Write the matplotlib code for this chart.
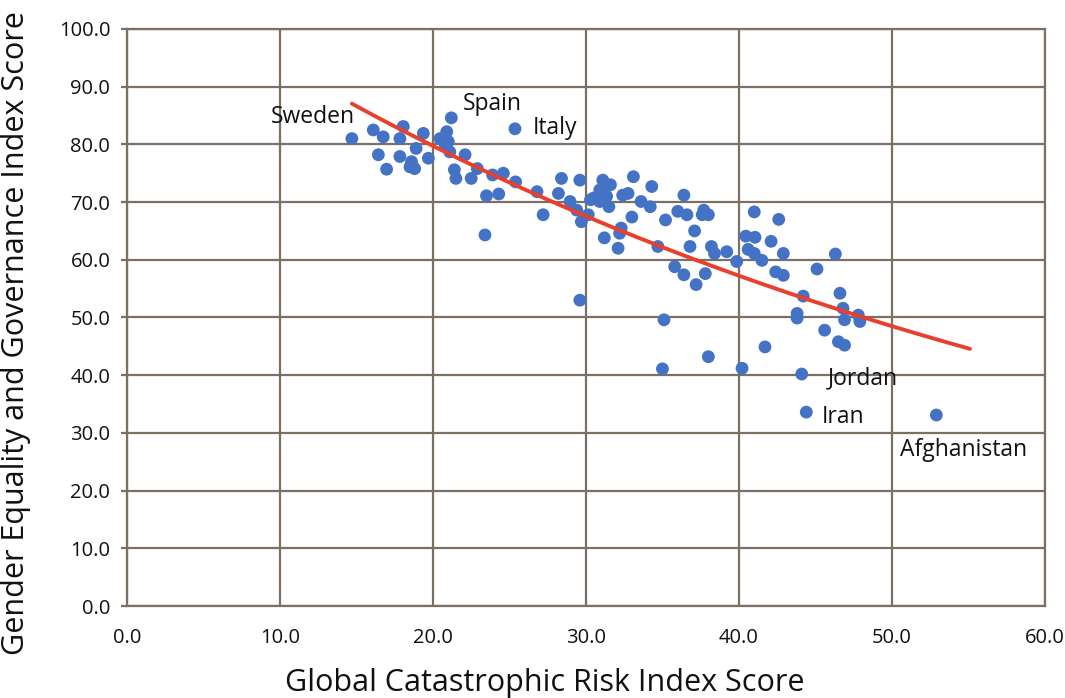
import matplotlib.pyplot as plt
import numpy as np

# Global Catastrophic Risk Index score (x) vs Gender Equality & Governance score (y)
risk_score = [
    14.7, 16.1, 16.75, 18.06, 17.84, 19.37, 16.43, 17.84, 18.9, 16.97,
    18.5, 18.8, 19.7, 18.6, 21.2, 25.36, 20.46, 20.9, 21.0, 21.1,
    22.1, 21.4, 21.5, 22.5, 22.9, 23.9, 24.6, 25.4, 23.5, 24.3,
    23.4, 20.8, 26.8, 27.2, 28.4, 28.2, 28.96, 29.4, 29.6, 29.7,
    30.15, 29.6, 30.5, 31.1, 30.9, 31.6, 31.35, 31.5, 30.9, 32.4,
    32.75, 33.1, 33.6, 34.3, 34.2, 33.0, 32.3, 32.2, 31.2, 32.1,
    34.7, 35.1, 36.4, 36.0, 36.6, 37.7, 38.0, 37.6, 35.2, 37.1,
    36.8, 38.2, 39.2, 38.4, 39.85, 35.8, 36.4, 37.8, 37.2, 41.0,
    40.45, 41.05, 42.1, 42.6, 40.6, 41.0, 41.5, 42.4, 42.9, 42.9,
    45.1, 46.3, 46.6, 44.2, 43.8, 43.8, 46.8, 46.9, 47.8, 47.9,
    45.6, 46.5, 46.9, 41.7, 38.0, 35.0, 40.2, 44.1, 44.4, 52.9,
    31.0, 30.3,
]
equality_score = [
    81.0, 82.5, 81.3, 83.1, 81.0, 81.9, 78.2, 77.9, 79.3, 75.7,
    76.1, 75.8, 77.6, 77.0, 84.6, 82.7, 81.0, 82.2, 80.5, 78.7,
    78.2, 75.6, 74.1, 74.1, 75.8, 74.7, 75.0, 73.5, 71.1, 71.4,
    64.3, 79.8, 71.8, 67.8, 74.1, 71.5, 70.1, 68.6, 73.8, 66.6,
    67.8, 53.0, 70.7, 73.8, 72.1, 73.0, 71.0, 69.2, 70.1, 71.2,
    71.5, 74.4, 70.1, 72.7, 69.2, 67.4, 65.5, 64.6, 63.8, 62.0,
    62.3, 49.6, 71.2, 68.4, 67.8, 68.6, 67.8, 67.8, 66.9, 65.0,
    62.3, 62.3, 61.4, 61.1, 59.7, 58.8, 57.4, 57.6, 55.7, 68.3,
    64.1, 63.9, 63.2, 67.0, 61.8, 61.1, 59.9, 57.9, 57.3, 61.1,
    58.4, 61.0, 54.2, 53.7, 50.7, 49.9, 51.6, 49.6, 50.4, 49.3,
    47.8, 45.8, 45.2, 44.9, 43.2, 41.1, 41.2, 40.2, 33.6, 33.1,
    71.5, 70.4,
]

# labelled countries: name, x, y of label text
label_names = ["Sweden", "Spain", "Italy", "Jordan", "Iran", "Afghanistan"]
label_x = [14.9, 21.96, 26.5, 45.8, 45.4, 50.5]
label_y = [84.7, 87.0, 82.8, 39.5, 32.8, 27.0]
label_ha = ["right", "left", "left", "left", "left", "left"]

trend_end = 55.1

GRID = "#7b7063"

plt.rcParams["font.family"] = ["Open Sans", "DejaVu Sans"]

fig = plt.figure(figsize=(10.65, 6.98), dpi=100)
ax = fig.add_axes([0.1192, 0.1318, 0.8620, 0.8267])

x = np.array(risk_score)
y = np.array(equality_score)

ax.scatter(x, y, s=85, color="#4472c4", edgecolors="none", zorder=3)

# exponential trendline (Excel style)
b, ln_a = np.polyfit(x, np.log(y), 1)
tx = np.linspace(x.min(), trend_end, 200)
ax.plot(tx, np.exp(ln_a) * np.exp(b * tx), color="#e8402d", lw=2.8,
        solid_capstyle="round", zorder=4)

for name, lx, ly, ha in zip(label_names, label_x, label_y, label_ha):
    ax.text(lx, ly, name, ha=ha, va="center", fontsize=16.5, color="#111111",
            zorder=5)

ax.set_xlim(0, 60)
ax.set_ylim(0, 100)
ax.set_xticks(np.arange(0, 61, 10))
ax.set_yticks(np.arange(0, 101, 10))
ax.set_xticklabels([f"{v:.1f}" for v in np.arange(0, 61, 10)])
ax.set_yticklabels([f"{v:.1f}" for v in np.arange(0, 101, 10)])
ax.grid(True, color=GRID, lw=1.6)
ax.set_axisbelow(True)
for sp in ax.spines.values():
    sp.set_color(GRID)
    sp.set_linewidth(1.6)
ax.tick_params(axis="x", length=0, pad=16, labelsize=14.5, colors="#111111")
ax.tick_params(axis="y", length=4, width=1.6, color=GRID, pad=8,
               labelsize=14.5, labelcolor="#111111")

ax.set_xlabel("Global Catastrophic Risk Index Score", fontsize=22,
              color="#111111")
ax.set_ylabel("Gender Equality and Governance Index Score", fontsize=22,
              color="#111111")
ax.xaxis.set_label_coords(0.455, -0.108)
ax.yaxis.set_label_coords(-0.104, 0.473)

fig.savefig("out.png", dpi=100)
